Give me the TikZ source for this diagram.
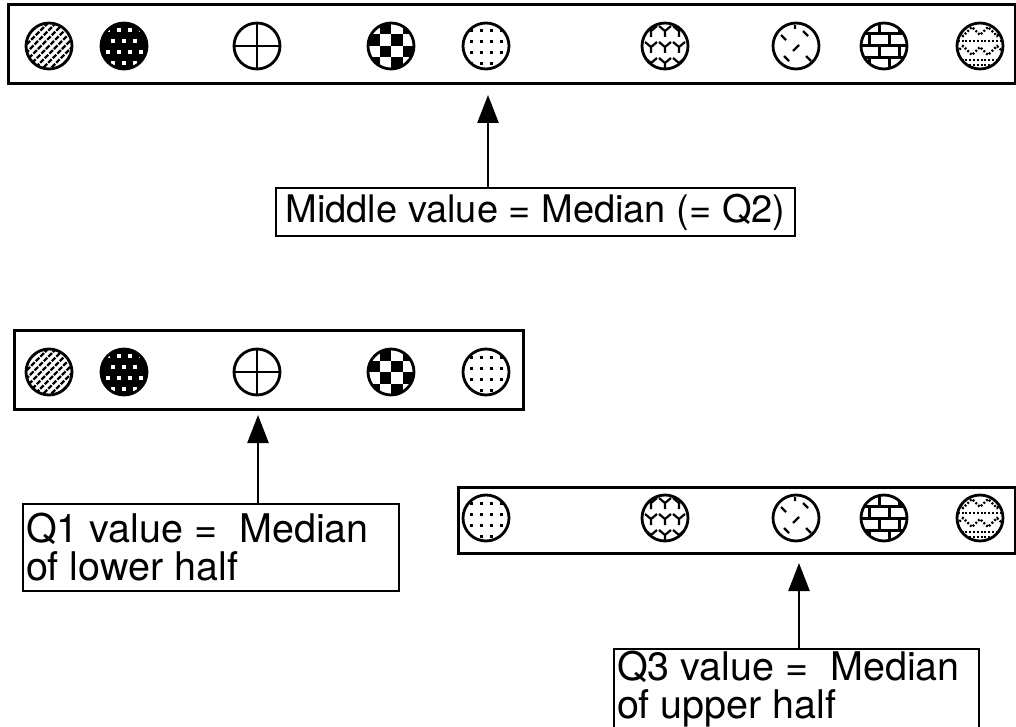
\documentclass[tikz,border=0pt]{standalone}
\usepackage{fontspec}
\setmainfont{TeX Gyre Heros}
\usetikzlibrary{arrows.meta}
\newcommand\pHatch{\foreach \i in {-48,-40,...,48}{\draw[line width=2.4pt, dash pattern=on 5pt off 1.5pt] (\i-26,26) -- (\i+26,-26);}}
\newcommand\pBlack{\fill (-26,-26) rectangle (26,26);
  \foreach \x in {-16,-5,6,17}{\foreach \y in {-16,6}{\fill[white] (\x-1.6,\y-1.6) rectangle ++(3.2,3.2);}}
  \foreach \x in {-11,0,11}{\foreach \y in {-5,17}{\fill[white] (\x-1.6,\y-1.6) rectangle ++(3.2,3.2);}}}
\newcommand\pCross{\draw[line width=2.8pt] (-26,0) -- (26,0) (0,-26) -- (0,26);}
\newcommand\pCheck{\foreach \i/\j in {0/1,0/3,1/0,1/2,2/1,2/3,3/0,3/2}{\fill (-23+\i*11.5,-23+\j*11.5) rectangle ++(11.5,11.5);}}
\newcommand\pDots{\foreach \x in {-15,-5,5,15}{\foreach \y in {-15,-4,7,18}{\fill (\x-1.5,\y-1.5) rectangle ++(3,3);}}}
\newcommand\pWeave{\foreach \x in {-14,0,14}{\foreach \y in {-12,4,20}{\draw[line width=2.2pt] (\x-6,\y-8) -- (\x,\y-3) -- (\x+6,\y-8) (\x,\y-3) -- (\x,\y+3);}}}
\newcommand\pDash{\draw[line width=2.4pt] (-15,-11) -- (-10,-6) (7,-15) -- (12,-10) (-3,5) -- (3,-1) (-12,10) -- (-7,15) (10,10) -- (15,15) (-1,-21) -- (-1,-17);}
\newcommand\pBrick{\draw[line width=3pt] (-26,-12) -- (26,-12) (-26,0) -- (26,0) (-26,12) -- (26,12)
  (-5,-24) -- (-5,-12) (15,-24) -- (15,-12) (-15,-12) -- (-15,0) (5,-12) -- (5,0)
  (-5,0) -- (-5,12) (15,0) -- (15,12) (-15,12) -- (-15,24) (5,12) -- (5,24);}
\newcommand\pZig{\begin{scope}[line width=2.2pt, dash pattern=on 2pt off 1.8pt]
  \draw (-26,-19) -- (-17,-10) -- (-8,-19) -- (0,-11) -- (8,-19) -- (17,-10) -- (26,-19);
  \draw (-26,-5) -- (26,-5);
  \draw (-26,9) -- (-17,0) -- (-8,9) -- (0,1) -- (8,9) -- (17,0) -- (26,9);
  \draw (-26,14) -- (26,14); \draw (-26,19) -- (26,19);\end{scope}}
\begin{document}
\begin{tikzpicture}[x=1pt,y=-1pt,
  rowbox/.style={draw, line width=3pt, anchor=north west, inner sep=0pt},
  ball/.style={circle, draw, line width=2.8pt, minimum size=46pt, inner sep=0pt},
  pat/.style={ball, path picture={\begin{scope}[shift={(path picture bounding box.center)}]#1\end{scope}}},
  hatch/.style={pat=\pHatch}, blk/.style={pat=\pBlack}, crs/.style={pat=\pCross},
  chk/.style={pat=\pCheck}, dts/.style={pat=\pDots}, wve/.style={pat=\pWeave},
  dsh/.style={pat=\pDash}, brk/.style={pat=\pBrick}, zig/.style={pat=\pZig},
  tbox/.style={draw, line width=2pt, anchor=north west, inner sep=0pt, font=\fontsize{39.5}{38}\selectfont},
  arr/.style={line width=2.5pt, -{Triangle[length=28pt,width=21pt]}}]
\useasboundingbox (0,0) rectangle (1016,727);
% row 1
\node[rowbox, minimum width=1007pt, minimum height=79pt] (r1) at (7,3) {};
\node[hatch] (a1) at (49,46) {};
\node[blk] (a2) at (124,46) {};
\node[crs] (a3) at (257,46) {};
\node[chk] (a4) at (391,46) {};
\node[dts] (a5) at (486,46) {};
\node[wve] (a6) at (665,46) {};
\node[dsh] (a7) at (796,46) {};
\node[brk] (a8) at (884,46) {};
\node[zig] (a9) at (980,46) {};
\node[tbox, minimum width=519pt, minimum height=48pt, font=\fontsize{38}{36}\selectfont] (mid) at (275,187) {Middle value = Median (= Q2)};
\coordinate (t1) at (488,95);
\draw[arr] (mid.north -| t1) -- (t1);
% row 2
\node[rowbox, minimum width=509pt, minimum height=79pt] (r2) at (13,329) {};
\node[hatch] (b1) at (49,372) {};
\node[blk] (b2) at (124,372) {};
\node[crs] (b3) at (257,372) {};
\node[chk] (b4) at (391,372) {};
\node[dts] (b5) at (486,372) {};
\node[tbox, inner xsep=3pt] (q1) at (22,503) {\parbox[t][87pt][c]{370pt}{\raggedright Q1 value = ~Median\\of lower half}};
\coordinate (t2) at (258,415);
\draw[arr] (q1.north -| t2) -- (t2);
% row 3
\node[rowbox, minimum width=557pt, minimum height=66pt] (r3) at (457,486) {};
\node[dts] (c1) at (486,518) {};
\node[wve] (c2) at (665,518) {};
\node[dsh] (c3) at (796,518) {};
\node[brk] (c4) at (884,518) {};
\node[zig] (c5) at (980,518) {};
\node[tbox, inner xsep=3pt, inner ysep=2pt] (q3) at (613,648) {\parbox[t][110pt][t]{359pt}{\raggedright Q3 value = ~Median\\of upper half}};
\coordinate (t3) at (799,563);
\draw[arr] (q3.north -| t3) -- (t3);
\end{tikzpicture}
\end{document}
